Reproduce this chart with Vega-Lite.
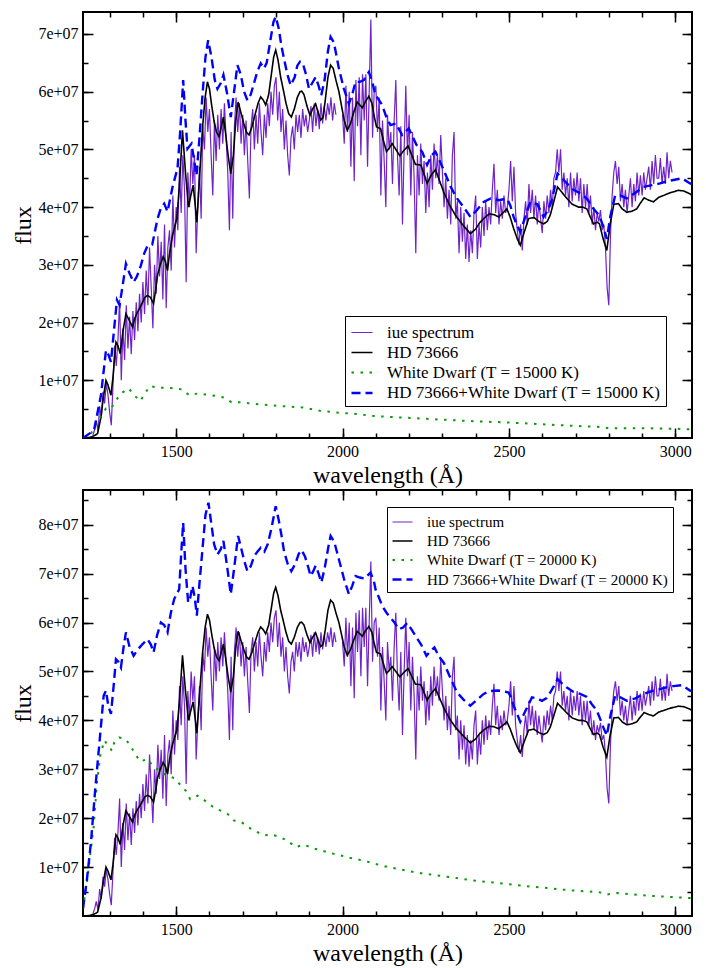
{
  "$schema": "https://vega.github.io/schema/vega-lite/v6.json",
  "description": "IUE spectrum of HD 73666 compared with model fluxes plus a white dwarf companion at two temperatures.",
  "padding": {"left": 10, "top": 10, "right": 5, "bottom": 5},
  "spacing": 0,
  "datasets": {
    "iue": [
      {"w":1250,"f":0.05},{"w":1255,"f":0.15},{"w":1260,"f":0.3},{"w":1265,"f":0.12},{"w":1270,"f":0.55},{"w":1275,"f":0.35},{"w":1280,"f":0.8},{"w":1285,"f":0.6},{"w":1290,"f":0.95},{"w":1295,"f":0.75},
      {"w":1300,"f":0.45},{"w":1305,"f":0.22},{"w":1310,"f":0.9},{"w":1315,"f":1.6},{"w":1320,"f":1.25},{"w":1325,"f":1.7},{"w":1330,"f":2.4},{"w":1335,"f":1.0},{"w":1340,"f":1.9},{"w":1345,"f":1.35},
      {"w":1350,"f":2.3},{"w":1355,"f":1.55},{"w":1360,"f":2.1},{"w":1365,"f":1.45},{"w":1370,"f":2.2},{"w":1375,"f":1.7},{"w":1380,"f":2.35},{"w":1385,"f":1.85},{"w":1390,"f":2.5},{"w":1395,"f":2.0},
      {"w":1400,"f":2.7},{"w":1405,"f":2.15},{"w":1410,"f":2.9},{"w":1415,"f":2.3},{"w":1420,"f":3.3},{"w":1425,"f":2.6},{"w":1430,"f":1.9},{"w":1435,"f":3.0},{"w":1440,"f":2.5},{"w":1445,"f":3.5},
      {"w":1450,"f":2.8},{"w":1455,"f":3.4},{"w":1460,"f":2.4},{"w":1465,"f":3.7},{"w":1470,"f":2.25},{"w":1475,"f":3.3},{"w":1480,"f":3.6},{"w":1485,"f":2.9},{"w":1490,"f":4.2},{"w":1495,"f":3.3},
      {"w":1500,"f":4.0},{"w":1505,"f":3.6},{"w":1510,"f":4.7},{"w":1515,"f":3.9},{"w":1520,"f":4.9},{"w":1525,"f":4.3},{"w":1530,"f":2.7},{"w":1535,"f":4.6},{"w":1540,"f":4.0},{"w":1545,"f":5.0},
      {"w":1550,"f":4.4},{"w":1555,"f":4.9},{"w":1560,"f":3.2},{"w":1565,"f":4.0},{"w":1570,"f":4.7},{"w":1575,"f":3.8},{"w":1580,"f":5.4},{"w":1585,"f":5.0},{"w":1590,"f":5.9},{"w":1595,"f":5.3},
      {"w":1600,"f":5.7},{"w":1605,"f":4.9},{"w":1610,"f":4.2},{"w":1615,"f":5.5},{"w":1620,"f":4.8},{"w":1625,"f":5.6},{"w":1630,"f":5.0},{"w":1635,"f":5.7},{"w":1640,"f":5.1},{"w":1645,"f":5.8},
      {"w":1650,"f":5.2},{"w":1655,"f":4.6},{"w":1660,"f":3.6},{"w":1665,"f":5.3},{"w":1670,"f":3.8},{"w":1675,"f":5.4},{"w":1680,"f":5.9},{"w":1685,"f":5.3},{"w":1690,"f":5.8},{"w":1695,"f":5.1},
      {"w":1700,"f":5.6},{"w":1705,"f":4.9},{"w":1710,"f":5.5},{"w":1715,"f":4.8},{"w":1720,"f":4.15},{"w":1725,"f":5.4},{"w":1730,"f":5.7},{"w":1735,"f":5.0},{"w":1740,"f":5.6},{"w":1745,"f":5.1},
      {"w":1750,"f":5.8},{"w":1755,"f":5.3},{"w":1760,"f":4.9},{"w":1765,"f":5.6},{"w":1770,"f":5.2},{"w":1775,"f":5.8},{"w":1780,"f":5.4},{"w":1785,"f":6.0},{"w":1790,"f":5.6},{"w":1795,"f":6.1},
      {"w":1800,"f":6.25},{"w":1805,"f":5.5},{"w":1810,"f":6.0},{"w":1815,"f":5.3},{"w":1820,"f":5.7},{"w":1825,"f":5.0},{"w":1830,"f":5.5},{"w":1835,"f":4.9},{"w":1840,"f":4.55},{"w":1845,"f":5.2},
      {"w":1850,"f":5.4},{"w":1855,"f":5.0},{"w":1860,"f":5.6},{"w":1865,"f":5.3},{"w":1870,"f":5.6},{"w":1875,"f":5.2},{"w":1880,"f":5.7},{"w":1885,"f":5.4},{"w":1890,"f":5.6},{"w":1895,"f":5.3},
      {"w":1900,"f":5.5},{"w":1905,"f":5.75},{"w":1910,"f":5.3},{"w":1915,"f":5.8},{"w":1920,"f":5.4},{"w":1925,"f":5.7},{"w":1930,"f":5.35},{"w":1935,"f":5.8},{"w":1940,"f":5.45},{"w":1945,"f":5.75},
      {"w":1950,"f":5.5},{"w":1955,"f":5.8},{"w":1960,"f":5.6},{"w":1965,"f":5.9},{"w":1970,"f":5.5},{"w":1975,"f":5.8},{"w":1980,"f":5.6},
      {"w":1990,"f":null},
      {"w":2000,"f":5.6},{"w":2005,"f":5.1},{"w":2010,"f":6.1},{"w":2015,"f":5.3},{"w":2020,"f":6.0},{"w":2025,"f":4.7},{"w":2030,"f":5.9},{"w":2035,"f":4.45},{"w":2040,"f":6.2},{"w":2045,"f":5.4},
      {"w":2050,"f":6.25},{"w":2055,"f":4.9},{"w":2060,"f":6.3},{"w":2065,"f":5.5},{"w":2070,"f":6.3},{"w":2075,"f":4.7},{"w":2080,"f":6.0},{"w":2085,"f":7.25},{"w":2090,"f":5.2},{"w":2095,"f":6.0},
      {"w":2100,"f":6.1},{"w":2105,"f":5.3},{"w":2110,"f":5.9},{"w":2115,"f":4.2},{"w":2120,"f":5.5},{"w":2125,"f":4.8},{"w":2130,"f":4.0},{"w":2135,"f":5.6},{"w":2140,"f":5.0},{"w":2145,"f":5.3},
      {"w":2150,"f":4.4},{"w":2155,"f":5.5},{"w":2160,"f":6.2},{"w":2165,"f":4.9},{"w":2170,"f":4.2},{"w":2175,"f":5.4},{"w":2180,"f":3.7},{"w":2185,"f":5.0},{"w":2190,"f":6.1},{"w":2195,"f":4.9},
      {"w":2200,"f":5.6},{"w":2205,"f":4.2},{"w":2210,"f":5.3},{"w":2215,"f":4.5},{"w":2220,"f":3.2},{"w":2225,"f":4.9},{"w":2230,"f":4.2},{"w":2235,"f":5.1},{"w":2240,"f":4.4},{"w":2245,"f":4.8},
      {"w":2250,"f":3.9},{"w":2255,"f":4.6},{"w":2260,"f":4.0},{"w":2265,"f":4.9},{"w":2270,"f":4.3},{"w":2275,"f":5.1},{"w":2280,"f":4.5},{"w":2285,"f":4.9},{"w":2290,"f":4.4},{"w":2295,"f":5.25},
      {"w":2300,"f":4.6},{"w":2305,"f":4.0},{"w":2310,"f":4.5},{"w":2315,"f":3.8},{"w":2320,"f":4.3},{"w":2325,"f":3.7},{"w":2330,"f":4.9},{"w":2335,"f":5.3},{"w":2340,"f":3.8},{"w":2345,"f":4.1},
      {"w":2350,"f":3.2},{"w":2355,"f":4.0},{"w":2360,"f":3.4},{"w":2365,"f":3.9},{"w":2370,"f":3.1},{"w":2375,"f":3.7},{"w":2380,"f":3.05},{"w":2385,"f":3.6},{"w":2390,"f":3.2},{"w":2395,"f":3.9},
      {"w":2400,"f":4.2},{"w":2405,"f":3.1},{"w":2410,"f":3.7},{"w":2415,"f":3.3},{"w":2420,"f":4.0},{"w":2425,"f":3.5},{"w":2430,"f":4.1},{"w":2435,"f":3.6},{"w":2440,"f":4.0},{"w":2445,"f":3.7},
      {"w":2450,"f":4.3},{"w":2455,"f":4.75},{"w":2460,"f":3.9},{"w":2465,"f":4.3},{"w":2470,"f":3.7},{"w":2475,"f":4.1},{"w":2480,"f":3.8},{"w":2485,"f":4.2},{"w":2490,"f":3.9},{"w":2495,"f":4.0},
      {"w":2500,"f":4.3},{"w":2505,"f":4.8},{"w":2510,"f":4.1},{"w":2515,"f":4.7},{"w":2520,"f":3.9},{"w":2525,"f":3.6},{"w":2530,"f":3.35},{"w":2535,"f":3.7},{"w":2540,"f":3.25},{"w":2545,"f":3.8},
      {"w":2550,"f":4.1},{"w":2555,"f":3.7},{"w":2560,"f":4.4},{"w":2565,"f":3.9},{"w":2570,"f":4.3},{"w":2575,"f":3.8},{"w":2580,"f":4.2},{"w":2585,"f":3.7},{"w":2590,"f":4.1},{"w":2595,"f":3.8},
      {"w":2600,"f":3.55},{"w":2605,"f":4.1},{"w":2610,"f":3.8},{"w":2615,"f":4.2},{"w":2620,"f":3.9},{"w":2625,"f":4.3},{"w":2630,"f":4.0},{"w":2635,"f":4.5},{"w":2640,"f":4.6},{"w":2645,"f":5.0},
      {"w":2650,"f":4.6},{"w":2655,"f":5.0},{"w":2660,"f":4.3},{"w":2665,"f":4.6},{"w":2670,"f":4.2},{"w":2675,"f":4.5},{"w":2680,"f":4.0},{"w":2685,"f":4.6},{"w":2690,"f":4.1},{"w":2695,"f":4.5},
      {"w":2700,"f":4.2},{"w":2705,"f":4.6},{"w":2710,"f":4.1},{"w":2715,"f":4.5},{"w":2720,"f":3.9},{"w":2725,"f":4.4},{"w":2730,"f":4.0},{"w":2735,"f":4.4},{"w":2740,"f":3.9},{"w":2745,"f":4.2},
      {"w":2750,"f":3.7},{"w":2755,"f":4.0},{"w":2760,"f":3.6},{"w":2765,"f":3.9},{"w":2770,"f":3.75},{"w":2775,"f":3.95},{"w":2780,"f":3.6},{"w":2785,"f":3.7},{"w":2790,"f":3.3},{"w":2795,"f":2.6},
      {"w":2800,"f":2.3},{"w":2805,"f":3.5},{"w":2810,"f":4.2},{"w":2815,"f":4.6},{"w":2820,"f":4.8},{"w":2825,"f":4.4},{"w":2830,"f":4.7},{"w":2835,"f":4.1},{"w":2840,"f":4.4},{"w":2845,"f":4.0},
      {"w":2850,"f":4.3},{"w":2855,"f":3.9},{"w":2860,"f":4.2},{"w":2865,"f":4.5},{"w":2870,"f":4.0},{"w":2875,"f":4.4},{"w":2880,"f":4.1},{"w":2885,"f":4.6},{"w":2890,"f":4.2},{"w":2895,"f":4.55},
      {"w":2900,"f":4.2},{"w":2905,"f":4.6},{"w":2910,"f":4.3},{"w":2915,"f":4.5},{"w":2920,"f":4.7},{"w":2925,"f":4.3},{"w":2930,"f":4.8},{"w":2935,"f":4.4},{"w":2940,"f":4.9},{"w":2945,"f":4.5},
      {"w":2950,"f":4.5},{"w":2955,"f":4.85},{"w":2960,"f":4.4},{"w":2965,"f":4.7},{"w":2970,"f":4.4},{"w":2975,"f":4.95},{"w":2980,"f":4.5},{"w":2985,"f":4.8},{"w":2990,"f":4.6}
    ],
    "hd": [
      {"w":1220,"f":0.0},{"w":1240,"f":0.01},{"w":1250,"f":0.03},{"w":1260,"f":0.06},{"w":1264,"f":0.08},{"w":1270,"f":0.25},{"w":1274,"f":0.36},{"w":1280,"f":0.65},{"w":1289,"f":1.0},{"w":1295,"f":0.92},
      {"w":1304,"f":0.74},{"w":1310,"f":1.05},{"w":1319,"f":1.66},{"w":1325,"f":1.6},{"w":1332,"f":1.46},{"w":1340,"f":1.85},{"w":1349,"f":2.15},{"w":1358,"f":2.05},{"w":1369,"f":1.92},{"w":1376,"f":2.08},
      {"w":1384,"f":2.18},{"w":1395,"f":2.3},{"w":1405,"f":2.43},{"w":1414,"f":2.47},{"w":1422,"f":2.44},{"w":1432,"f":2.33},{"w":1438,"f":2.55},{"w":1444,"f":2.82},{"w":1452,"f":3.0},{"w":1461,"f":3.14},
      {"w":1468,"f":3.05},{"w":1474,"f":2.9},{"w":1480,"f":3.2},{"w":1489,"f":3.51},{"w":1495,"f":3.65},{"w":1502,"f":3.8},{"w":1510,"f":4.4},{"w":1519,"f":5.33},{"w":1528,"f":4.6},{"w":1537,"f":4.0},
      {"w":1544,"f":4.2},{"w":1551,"f":4.38},{"w":1556,"f":4.1},{"w":1562,"f":3.74},{"w":1570,"f":4.5},{"w":1579,"f":5.36},{"w":1587,"f":5.9},{"w":1594,"f":6.17},{"w":1600,"f":6.05},{"w":1607,"f":5.75},
      {"w":1614,"f":5.48},{"w":1621,"f":5.3},{"w":1629,"f":5.22},{"w":1636,"f":5.4},{"w":1642,"f":5.56},{"w":1648,"f":5.3},{"w":1656,"f":4.9},{"w":1664,"f":4.58},{"w":1672,"f":4.9},{"w":1679,"f":5.5},
      {"w":1686,"f":5.82},{"w":1694,"f":5.65},{"w":1703,"f":5.45},{"w":1711,"f":5.3},{"w":1719,"f":5.25},{"w":1728,"f":5.4},{"w":1737,"f":5.6},{"w":1746,"f":5.8},{"w":1754,"f":5.91},{"w":1762,"f":5.85},
      {"w":1769,"f":5.77},{"w":1778,"f":5.95},{"w":1786,"f":6.3},{"w":1793,"f":6.6},{"w":1799,"f":6.72},{"w":1806,"f":6.55},{"w":1814,"f":6.25},{"w":1822,"f":6.03},{"w":1830,"f":5.8},{"w":1838,"f":5.62},
      {"w":1846,"f":5.56},{"w":1855,"f":5.7},{"w":1864,"f":5.9},{"w":1872,"f":6.0},{"w":1877,"f":6.01},{"w":1884,"f":5.95},{"w":1893,"f":5.75},{"w":1902,"f":5.59},{"w":1910,"f":5.7},{"w":1919,"f":5.79},
      {"w":1926,"f":5.65},{"w":1934,"f":5.51},{"w":1941,"f":5.55},{"w":1948,"f":5.85},{"w":1956,"f":6.25},{"w":1964,"f":6.46},{"w":1972,"f":6.4},{"w":1980,"f":6.2},{"w":1989,"f":6.0},{"w":1997,"f":5.75},
      {"w":2005,"f":5.5},{"w":2014,"f":5.33},{"w":2024,"f":5.45},{"w":2034,"f":5.65},{"w":2044,"f":5.82},{"w":2052,"f":5.77},{"w":2059,"f":5.72},{"w":2068,"f":5.82},{"w":2079,"f":5.92},{"w":2088,"f":5.8},
      {"w":2096,"f":5.55},{"w":2102,"f":5.39},{"w":2114,"f":5.36},{"w":2123,"f":5.15},{"w":2132,"f":4.96},{"w":2140,"f":5.02},{"w":2149,"f":5.1},{"w":2160,"f":5.0},{"w":2172,"f":4.89},{"w":2184,"f":4.98},
      {"w":2197,"f":5.06},{"w":2208,"f":4.9},{"w":2219,"f":4.74},{"w":2235,"f":4.73},{"w":2246,"f":4.55},{"w":2254,"f":4.41},{"w":2266,"f":4.55},{"w":2279,"f":4.65},{"w":2290,"f":4.48},{"w":2304,"f":4.26},
      {"w":2320,"f":4.05},{"w":2339,"f":3.86},{"w":2360,"f":3.7},{"w":2384,"f":3.54},{"w":2400,"f":3.62},{"w":2412,"f":3.73},{"w":2424,"f":3.8},{"w":2440,"f":3.88},{"w":2455,"f":3.87},{"w":2469,"f":3.83},
      {"w":2482,"f":3.9},{"w":2494,"f":3.97},{"w":2504,"f":3.82},{"w":2514,"f":3.63},{"w":2525,"f":3.45},{"w":2534,"f":3.34},{"w":2545,"f":3.55},{"w":2559,"f":3.8},{"w":2575,"f":3.82},{"w":2590,"f":3.75},
      {"w":2604,"f":3.71},{"w":2615,"f":3.75},{"w":2624,"f":3.86},{"w":2635,"f":4.1},{"w":2646,"f":4.35},{"w":2660,"f":4.25},{"w":2674,"f":4.15},{"w":2690,"f":4.05},{"w":2709,"f":4.0},{"w":2722,"f":4.0},
      {"w":2734,"f":3.97},{"w":2745,"f":3.82},{"w":2754,"f":3.71},{"w":2765,"f":3.74},{"w":2772,"f":3.71},{"w":2783,"f":3.45},{"w":2794,"f":3.25},{"w":2804,"f":3.7},{"w":2815,"f":4.05},{"w":2829,"f":4.06},
      {"w":2840,"f":3.97},{"w":2854,"f":3.91},{"w":2870,"f":3.93},{"w":2884,"f":3.97},{"w":2895,"f":4.07},{"w":2906,"f":4.16},{"w":2920,"f":4.12},{"w":2934,"f":4.09},{"w":2950,"f":4.17},{"w":2964,"f":4.2},
      {"w":2985,"f":4.25},{"w":3009,"f":4.29},{"w":3025,"f":4.28},{"w":3044,"f":4.23},{"w":3050,"f":4.2}
    ],
    "wd15": [
      {"w":1220,"f":0.0},{"w":1244,"f":0.08},{"w":1269,"f":0.34},{"w":1289,"f":0.51},{"w":1304,"f":0.51},{"w":1319,"f":0.65},{"w":1334,"f":0.77},{"w":1357,"f":0.86},{"w":1374,"f":0.74},{"w":1392,"f":0.64},
      {"w":1406,"f":0.77},{"w":1421,"f":0.9},{"w":1446,"f":0.87},{"w":1470,"f":0.87},{"w":1494,"f":0.86},{"w":1519,"f":0.84},{"w":1539,"f":0.74},{"w":1564,"f":0.77},{"w":1594,"f":0.75},{"w":1619,"f":0.73},
      {"w":1644,"f":0.7},{"w":1666,"f":0.62},{"w":1694,"f":0.62},{"w":1719,"f":0.6},{"w":1774,"f":0.57},{"w":1824,"f":0.55},{"w":1879,"f":0.53},{"w":1934,"f":0.47},{"w":1984,"f":0.44},{"w":2034,"f":0.42},
      {"w":2094,"f":0.38},{"w":2194,"f":0.35},{"w":2294,"f":0.32},{"w":2394,"f":0.29},{"w":2494,"f":0.27},{"w":2594,"f":0.24},{"w":2694,"f":0.21},{"w":2780,"f":0.19},{"w":2799,"f":0.17},{"w":2894,"f":0.17},
      {"w":3000,"f":0.16},{"w":3050,"f":0.15}
    ],
    "sum15": [
      {"w":1220,"f":0.0},{"w":1240,"f":0.08},{"w":1254,"f":0.16},{"w":1274,"f":0.74},{"w":1289,"f":1.52},{"w":1296,"f":1.45},{"w":1304,"f":1.32},{"w":1312,"f":1.8},{"w":1322,"f":2.39},{"w":1330,"f":2.3},
      {"w":1338,"f":2.6},{"w":1349,"f":3.02},{"w":1360,"f":2.85},{"w":1372,"f":2.7},{"w":1382,"f":2.8},{"w":1394,"f":2.99},{"w":1404,"f":3.2},{"w":1414,"f":3.33},{"w":1428,"f":3.35},{"w":1444,"f":3.8},
      {"w":1454,"f":3.98},{"w":1464,"f":4.06},{"w":1474,"f":3.92},{"w":1489,"f":4.35},{"w":1504,"f":4.67},{"w":1512,"f":5.3},{"w":1521,"f":6.2},{"w":1528,"f":5.5},{"w":1534,"f":5.01},{"w":1546,"f":5.1},
      {"w":1561,"f":4.55},{"w":1570,"f":5.2},{"w":1579,"f":5.94},{"w":1588,"f":6.6},{"w":1596,"f":6.89},{"w":1606,"f":6.6},{"w":1616,"f":6.2},{"w":1624,"f":6.05},{"w":1634,"f":6.15},{"w":1642,"f":6.29},
      {"w":1652,"f":6.0},{"w":1664,"f":5.56},{"w":1674,"f":6.0},{"w":1684,"f":6.46},{"w":1694,"f":6.3},{"w":1704,"f":6.0},{"w":1714,"f":5.85},{"w":1724,"f":5.95},{"w":1734,"f":6.15},{"w":1744,"f":6.35},
      {"w":1754,"f":6.49},{"w":1764,"f":6.4},{"w":1772,"f":6.5},{"w":1782,"f":6.85},{"w":1792,"f":7.2},{"w":1799,"f":7.3},{"w":1808,"f":7.1},{"w":1816,"f":6.8},{"w":1824,"f":6.57},{"w":1834,"f":6.3},
      {"w":1844,"f":6.11},{"w":1856,"f":6.25},{"w":1864,"f":6.45},{"w":1872,"f":6.52},{"w":1880,"f":6.5},{"w":1890,"f":6.3},{"w":1899,"f":6.05},{"w":1909,"f":6.15},{"w":1919,"f":6.25},{"w":1928,"f":6.1},
      {"w":1936,"f":5.94},{"w":1946,"f":6.2},{"w":1956,"f":6.7},{"w":1964,"f":6.95},{"w":1974,"f":6.85},{"w":1989,"f":6.4},{"w":2004,"f":6.05},{"w":2019,"f":5.79},{"w":2029,"f":5.95},{"w":2039,"f":6.17},
      {"w":2052,"f":6.17},{"w":2064,"f":6.2},{"w":2079,"f":6.34},{"w":2090,"f":6.15},{"w":2099,"f":5.94},{"w":2110,"f":5.85},{"w":2119,"f":5.77},{"w":2132,"f":5.55},{"w":2144,"f":5.42},{"w":2160,"f":5.45},
      {"w":2179,"f":5.25},{"w":2199,"f":5.36},{"w":2212,"f":5.2},{"w":2222,"f":5.08},{"w":2240,"f":4.95},{"w":2254,"f":4.73},{"w":2268,"f":4.9},{"w":2279,"f":4.96},{"w":2292,"f":4.8},{"w":2304,"f":4.64},
      {"w":2325,"f":4.35},{"w":2344,"f":4.15},{"w":2364,"f":4.0},{"w":2384,"f":3.83},{"w":2404,"f":3.95},{"w":2424,"f":4.09},{"w":2445,"f":4.15},{"w":2470,"f":4.12},{"w":2494,"f":4.15},{"w":2504,"f":4.03},
      {"w":2514,"f":3.83},{"w":2525,"f":3.68},{"w":2534,"f":3.57},{"w":2550,"f":3.85},{"w":2564,"f":4.09},{"w":2585,"f":4.05},{"w":2604,"f":3.83},{"w":2618,"f":3.95},{"w":2630,"f":4.15},{"w":2646,"f":4.58},
      {"w":2660,"f":4.5},{"w":2674,"f":4.41},{"w":2694,"f":4.3},{"w":2714,"f":4.24},{"w":2734,"f":4.15},{"w":2754,"f":3.97},{"w":2772,"f":3.85},{"w":2784,"f":3.65},{"w":2794,"f":3.45},{"w":2805,"f":3.85},
      {"w":2819,"f":4.2},{"w":2835,"f":4.2},{"w":2854,"f":4.15},{"w":2880,"f":4.25},{"w":2904,"f":4.35},{"w":2930,"f":4.38},{"w":2954,"f":4.41},{"w":2975,"f":4.45},{"w":2994,"f":4.47},{"w":3020,"f":4.5},
      {"w":3044,"f":4.41},{"w":3050,"f":4.4}
    ],
    "wd20": [
      {"w":1220,"f":0.15},{"w":1232,"f":0.69},{"w":1242,"f":1.27},{"w":1252,"f":1.82},{"w":1262,"f":2.73},{"w":1272,"f":3.28},{"w":1284,"f":3.59},{"w":1294,"f":3.5},{"w":1307,"f":3.38},{"w":1314,"f":3.55},
      {"w":1329,"f":3.65},{"w":1349,"f":3.61},{"w":1364,"f":3.46},{"w":1379,"f":3.29},{"w":1392,"f":3.16},{"w":1414,"f":3.21},{"w":1431,"f":3.06},{"w":1454,"f":2.95},{"w":1472,"f":2.87},{"w":1494,"f":2.82},
      {"w":1514,"f":2.67},{"w":1529,"f":2.56},{"w":1542,"f":2.39},{"w":1564,"f":2.46},{"w":1586,"f":2.36},{"w":1609,"f":2.24},{"w":1629,"f":2.17},{"w":1654,"f":2.09},{"w":1674,"f":1.95},{"w":1694,"f":1.93},
      {"w":1716,"f":1.82},{"w":1739,"f":1.73},{"w":1764,"f":1.65},{"w":1789,"f":1.66},{"w":1814,"f":1.61},{"w":1836,"f":1.53},{"w":1859,"f":1.41},{"w":1884,"f":1.46},{"w":1909,"f":1.39},{"w":1936,"f":1.34},
      {"w":1962,"f":1.29},{"w":1989,"f":1.25},{"w":2014,"f":1.2},{"w":2044,"f":1.16},{"w":2069,"f":1.12},{"w":2124,"f":1.02},{"w":2174,"f":0.95},{"w":2229,"f":0.88},{"w":2284,"f":0.83},{"w":2339,"f":0.78},
      {"w":2389,"f":0.73},{"w":2444,"f":0.69},{"w":2499,"f":0.65},{"w":2552,"f":0.61},{"w":2606,"f":0.58},{"w":2659,"f":0.54},{"w":2714,"f":0.51},{"w":2769,"f":0.49},{"w":2794,"f":0.44},{"w":2824,"f":0.47},
      {"w":2874,"f":0.44},{"w":2929,"f":0.41},{"w":2984,"f":0.39},{"w":3039,"f":0.37},{"w":3050,"f":0.37}
    ],
    "sum20": [
      {"w":1220,"f":0.15},{"w":1232,"f":0.76},{"w":1244,"f":1.51},{"w":1256,"f":2.53},{"w":1264,"f":3.14},{"w":1274,"f":3.89},{"w":1282,"f":4.5},{"w":1289,"f":4.61},{"w":1296,"f":4.3},{"w":1304,"f":4.13},
      {"w":1312,"f":4.7},{"w":1319,"f":5.25},{"w":1326,"f":5.2},{"w":1334,"f":5.08},{"w":1342,"f":5.5},{"w":1349,"f":5.8},{"w":1360,"f":5.5},{"w":1372,"f":5.32},{"w":1385,"f":5.45},{"w":1399,"f":5.56},
      {"w":1414,"f":5.66},{"w":1424,"f":5.55},{"w":1432,"f":5.39},{"w":1443,"f":5.75},{"w":1454,"f":6.0},{"w":1464,"f":5.95},{"w":1474,"f":5.8},{"w":1484,"f":6.2},{"w":1494,"f":6.48},{"w":1509,"f":6.68},
      {"w":1515,"f":7.4},{"w":1521,"f":8.04},{"w":1528,"f":7.1},{"w":1536,"f":6.41},{"w":1542,"f":6.5},{"w":1549,"f":6.75},{"w":1556,"f":6.5},{"w":1562,"f":6.14},{"w":1570,"f":6.8},{"w":1579,"f":7.5},
      {"w":1588,"f":8.2},{"w":1597,"f":8.45},{"w":1606,"f":8.0},{"w":1614,"f":7.6},{"w":1624,"f":7.39},{"w":1634,"f":7.5},{"w":1642,"f":7.67},{"w":1652,"f":7.2},{"w":1664,"f":6.58},{"w":1674,"f":7.1},
      {"w":1686,"f":7.77},{"w":1696,"f":7.5},{"w":1705,"f":7.25},{"w":1714,"f":7.05},{"w":1724,"f":7.15},{"w":1734,"f":7.35},{"w":1744,"f":7.45},{"w":1754,"f":7.53},{"w":1765,"f":7.45},{"w":1775,"f":7.6},
      {"w":1787,"f":7.95},{"w":1799,"f":8.38},{"w":1808,"f":8.1},{"w":1816,"f":7.8},{"w":1824,"f":7.46},{"w":1835,"f":7.2},{"w":1846,"f":7.05},{"w":1858,"f":7.2},{"w":1868,"f":7.4},{"w":1877,"f":7.48},
      {"w":1887,"f":7.35},{"w":1896,"f":7.15},{"w":1904,"f":6.95},{"w":1912,"f":7.05},{"w":1919,"f":7.16},{"w":1928,"f":7.0},{"w":1936,"f":6.82},{"w":1946,"f":7.1},{"w":1956,"f":7.5},{"w":1964,"f":7.77},
      {"w":1975,"f":7.65},{"w":1989,"f":7.29},{"w":2004,"f":6.9},{"w":2019,"f":6.58},{"w":2029,"f":6.75},{"w":2039,"f":6.95},{"w":2052,"f":6.92},{"w":2066,"f":6.9},{"w":2084,"f":7.02},{"w":2094,"f":6.85},
      {"w":2099,"f":6.68},{"w":2110,"f":6.5},{"w":2119,"f":6.34},{"w":2132,"f":6.2},{"w":2144,"f":6.1},{"w":2156,"f":6.0},{"w":2169,"f":5.86},{"w":2182,"f":5.9},{"w":2194,"f":5.99},{"w":2208,"f":5.85},
      {"w":2219,"f":5.73},{"w":2236,"f":5.55},{"w":2252,"f":5.32},{"w":2264,"f":5.42},{"w":2276,"f":5.49},{"w":2290,"f":5.3},{"w":2304,"f":5.18},{"w":2325,"f":4.85},{"w":2344,"f":4.57},{"w":2364,"f":4.42},
      {"w":2384,"f":4.3},{"w":2404,"f":4.42},{"w":2424,"f":4.54},{"w":2444,"f":4.6},{"w":2464,"f":4.61},{"w":2482,"f":4.6},{"w":2499,"f":4.57},{"w":2507,"f":4.45},{"w":2514,"f":4.3},{"w":2525,"f":4.12},
      {"w":2534,"f":3.97},{"w":2550,"f":4.2},{"w":2569,"f":4.47},{"w":2585,"f":4.45},{"w":2599,"f":4.4},{"w":2612,"f":4.45},{"w":2624,"f":4.57},{"w":2635,"f":4.7},{"w":2646,"f":4.84},{"w":2660,"f":4.75},
      {"w":2674,"f":4.67},{"w":2694,"f":4.58},{"w":2714,"f":4.54},{"w":2734,"f":4.48},{"w":2749,"f":4.33},{"w":2764,"f":4.2},{"w":2774,"f":4.03},{"w":2784,"f":3.85},{"w":2794,"f":3.69},{"w":2805,"f":4.1},
      {"w":2819,"f":4.5},{"w":2835,"f":4.47},{"w":2854,"f":4.4},{"w":2880,"f":4.45},{"w":2904,"f":4.54},{"w":2930,"f":4.6},{"w":2954,"f":4.64},{"w":2975,"f":4.68},{"w":2994,"f":4.7},{"w":3020,"f":4.72},
      {"w":3044,"f":4.61},{"w":3050,"f":4.6}
    ]
  },
  "vconcat": [
    {
      "width": 609,
      "height": 426,
      "layer": [
        {
          "data": {"name": "iue"},
          "mark": {"type": "line", "clip": true},
          "encoding": {
            "x": {"field": "w", "type": "quantitative", "scale": {"domain": [1220, 3050], "nice": false, "zero": false},
                  "axis": {"orient": "bottom", "values": [1500, 2000, 2500, 3000], "format": "d", "tickSize": -10, "labelPadding": 15, "labelFlush": false, "title": "wavelength (Å)", "titlePadding": 4}},
            "y": {"field": "f", "type": "quantitative", "scale": {"domain": [0, 7.38], "nice": false},
                  "axis": {"orient": "left", "values": [1, 2, 3, 4, 5, 6, 7], "tickSize": -10, "labelPadding": 15, "labelExpr": "datum.value + 'e+07'", "title": "flux", "titlePadding": 2}},
            "color": {"datum": "iue spectrum", "type": "nominal",
                      "scale": {"domain": ["iue spectrum", "HD 73666", "White Dwarf (T = 15000 K)", "HD 73666+White Dwarf (T = 15000 K)"], "range": ["#7024c8", "black", "#0a9a0a", "blue"]},
                      "legend": {"title": null, "orient": "none", "legendX": 262, "legendY": 304, "strokeColor": "black", "fillColor": "white", "padding": 5, "rowPadding": -2.5, "labelFontSize": 17, "labelOffset": 13, "symbolSize": 441, "labelLimit": 0}},
            "strokeDash": {"datum": "iue spectrum", "type": "nominal",
                           "scale": {"domain": ["iue spectrum", "HD 73666", "White Dwarf (T = 15000 K)", "HD 73666+White Dwarf (T = 15000 K)"], "range": [[1, 0], [1, 0], [2.5, 6.5], [9, 5]]}},
            "strokeWidth": {"datum": "iue spectrum", "type": "nominal",
                            "scale": {"domain": ["iue spectrum", "HD 73666", "White Dwarf (T = 15000 K)", "HD 73666+White Dwarf (T = 15000 K)"], "range": [1.2, 2.4, 3, 2.2]}}
          }
        },
        {
          "data": {"name": "hd"},
          "mark": {"type": "line", "clip": true},
          "encoding": {
            "x": {"field": "w", "type": "quantitative", "axis": {"orient": "top", "values": [1500, 2000, 2500, 3000], "tickSize": -10, "labels": false, "title": null}},
            "y": {"field": "f", "type": "quantitative", "axis": {"orient": "right", "values": [1, 2, 3, 4, 5, 6, 7], "tickSize": -10, "labels": false, "title": null}},
            "color": {"datum": "HD 73666", "type": "nominal"},
            "strokeDash": {"datum": "HD 73666", "type": "nominal"},
            "strokeWidth": {"datum": "HD 73666", "type": "nominal"}
          }
        },
        {
          "data": {"name": "wd15"},
          "mark": {"type": "line", "clip": true},
          "encoding": {
            "x": {"field": "w", "type": "quantitative", "axis": {"orient": "bottom", "values": [1300, 1400, 1500, 1600, 1700, 1800, 1900, 2000, 2100, 2200, 2300, 2400, 2500, 2600, 2700, 2800, 2900, 3000], "tickSize": -5, "labels": false, "title": null}},
            "y": {"field": "f", "type": "quantitative", "axis": {"orient": "left", "values": [0.5, 1, 1.5, 2, 2.5, 3, 3.5, 4, 4.5, 5, 5.5, 6, 6.5, 7], "tickSize": -5, "labels": false, "title": null}},
            "color": {"datum": "White Dwarf (T = 15000 K)", "type": "nominal"},
            "strokeDash": {"datum": "White Dwarf (T = 15000 K)", "type": "nominal"},
            "strokeWidth": {"datum": "White Dwarf (T = 15000 K)", "type": "nominal"}
          }
        },
        {
          "data": {"name": "sum15"},
          "mark": {"type": "line", "clip": true},
          "encoding": {
            "x": {"field": "w", "type": "quantitative", "axis": {"orient": "top", "values": [1300, 1400, 1500, 1600, 1700, 1800, 1900, 2000, 2100, 2200, 2300, 2400, 2500, 2600, 2700, 2800, 2900, 3000], "tickSize": -5, "labels": false, "title": null}},
            "y": {"field": "f", "type": "quantitative", "axis": {"orient": "right", "values": [0.5, 1, 1.5, 2, 2.5, 3, 3.5, 4, 4.5, 5, 5.5, 6, 6.5, 7], "tickSize": -5, "labels": false, "title": null}},
            "color": {"datum": "HD 73666+White Dwarf (T = 15000 K)", "type": "nominal"},
            "strokeDash": {"datum": "HD 73666+White Dwarf (T = 15000 K)", "type": "nominal"},
            "strokeWidth": {"datum": "HD 73666+White Dwarf (T = 15000 K)", "type": "nominal"}
          }
        }
      ],
      "resolve": {"axis": {"x": "independent", "y": "independent"}}
    },
    {
      "width": 609,
      "height": 426,
      "layer": [
        {
          "data": {"name": "iue"},
          "mark": {"type": "line", "clip": true},
          "encoding": {
            "x": {"field": "w", "type": "quantitative", "scale": {"domain": [1220, 3050], "nice": false, "zero": false},
                  "axis": {"orient": "bottom", "values": [1500, 2000, 2500, 3000], "format": "d", "tickSize": -10, "labelPadding": 15, "labelFlush": false, "title": "wavelength (Å)", "titlePadding": 4}},
            "y": {"field": "f", "type": "quantitative", "scale": {"domain": [0, 8.71], "nice": false},
                  "axis": {"orient": "left", "values": [1, 2, 3, 4, 5, 6, 7, 8], "tickSize": -10, "labelPadding": 15, "labelExpr": "datum.value + 'e+07'", "title": "flux", "titlePadding": 2}},
            "color": {"datum": "iue spectrum", "type": "nominal",
                      "scale": {"domain": ["iue spectrum", "HD 73666", "White Dwarf (T = 20000 K)", "HD 73666+White Dwarf (T = 20000 K)"], "range": ["#7024c8", "black", "#0a9a0a", "blue"]},
                      "legend": {"title": null, "orient": "none", "legendX": 304, "legendY": 17, "strokeColor": "black", "fillColor": "white", "padding": 4, "rowPadding": -3.5, "labelFontSize": 15, "labelOffset": 13, "symbolSize": 400, "labelLimit": 0}},
            "strokeDash": {"datum": "iue spectrum", "type": "nominal",
                           "scale": {"domain": ["iue spectrum", "HD 73666", "White Dwarf (T = 20000 K)", "HD 73666+White Dwarf (T = 20000 K)"], "range": [[1, 0], [1, 0], [2.5, 6.5], [9, 5]]}},
            "strokeWidth": {"datum": "iue spectrum", "type": "nominal",
                            "scale": {"domain": ["iue spectrum", "HD 73666", "White Dwarf (T = 20000 K)", "HD 73666+White Dwarf (T = 20000 K)"], "range": [1.2, 2.4, 3, 2.2]}}
          }
        },
        {
          "data": {"name": "hd"},
          "mark": {"type": "line", "clip": true},
          "encoding": {
            "x": {"field": "w", "type": "quantitative", "axis": {"orient": "top", "values": [1500, 2000, 2500, 3000], "tickSize": -10, "labels": false, "title": null}},
            "y": {"field": "f", "type": "quantitative", "axis": {"orient": "right", "values": [1, 2, 3, 4, 5, 6, 7, 8], "tickSize": -10, "labels": false, "title": null}},
            "color": {"datum": "HD 73666", "type": "nominal"},
            "strokeDash": {"datum": "HD 73666", "type": "nominal"},
            "strokeWidth": {"datum": "HD 73666", "type": "nominal"}
          }
        },
        {
          "data": {"name": "wd20"},
          "mark": {"type": "line", "clip": true},
          "encoding": {
            "x": {"field": "w", "type": "quantitative", "axis": {"orient": "bottom", "values": [1300, 1400, 1500, 1600, 1700, 1800, 1900, 2000, 2100, 2200, 2300, 2400, 2500, 2600, 2700, 2800, 2900, 3000], "tickSize": -5, "labels": false, "title": null}},
            "y": {"field": "f", "type": "quantitative", "axis": {"orient": "left", "values": [0.5, 1, 1.5, 2, 2.5, 3, 3.5, 4, 4.5, 5, 5.5, 6, 6.5, 7, 7.5, 8, 8.5], "tickSize": -5, "labels": false, "title": null}},
            "color": {"datum": "White Dwarf (T = 20000 K)", "type": "nominal"},
            "strokeDash": {"datum": "White Dwarf (T = 20000 K)", "type": "nominal"},
            "strokeWidth": {"datum": "White Dwarf (T = 20000 K)", "type": "nominal"}
          }
        },
        {
          "data": {"name": "sum20"},
          "mark": {"type": "line", "clip": true},
          "encoding": {
            "x": {"field": "w", "type": "quantitative", "axis": {"orient": "top", "values": [1300, 1400, 1500, 1600, 1700, 1800, 1900, 2000, 2100, 2200, 2300, 2400, 2500, 2600, 2700, 2800, 2900, 3000], "tickSize": -5, "labels": false, "title": null}},
            "y": {"field": "f", "type": "quantitative", "axis": {"orient": "right", "values": [0.5, 1, 1.5, 2, 2.5, 3, 3.5, 4, 4.5, 5, 5.5, 6, 6.5, 7, 7.5, 8, 8.5], "tickSize": -5, "labels": false, "title": null}},
            "color": {"datum": "HD 73666+White Dwarf (T = 20000 K)", "type": "nominal"},
            "strokeDash": {"datum": "HD 73666+White Dwarf (T = 20000 K)", "type": "nominal"},
            "strokeWidth": {"datum": "HD 73666+White Dwarf (T = 20000 K)", "type": "nominal"}
          }
        }
      ],
      "resolve": {"axis": {"x": "independent", "y": "independent"}}
    }
  ],
  "resolve": {
    "scale": {"color": "independent", "strokeDash": "independent", "strokeWidth": "independent"},
    "legend": {"color": "independent", "strokeDash": "independent", "strokeWidth": "independent"}
  },
  "config": {
    "font": "Liberation Serif",
    "view": {"stroke": "black", "strokeWidth": 2},
    "axis": {
      "domain": false,
      "grid": false,
      "tickColor": "black",
      "tickWidth": 1.5,
      "labelFont": "Liberation Serif",
      "labelFontSize": 16,
      "labelColor": "black",
      "titleFont": "Liberation Serif",
      "titleFontSize": 24,
      "titleFontWeight": "normal",
      "titleColor": "black"
    },
    "legend": {
      "labelFont": "Liberation Serif",
      "labelColor": "black",
      "symbolType": "stroke"
    }
  }
}
